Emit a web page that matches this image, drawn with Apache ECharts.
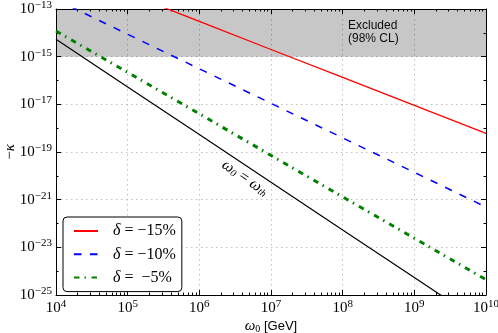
<!DOCTYPE html>
<html>
<head>
<meta charset="utf-8">
<script src="https://cdn.jsdelivr.net/npm/echarts@6/dist/echarts.min.js"></script>
<style>
  html, body { margin: 0; padding: 0; background: #fff; }
  #chart { width: 498px; height: 333px; }
</style>
</head>
<body>
<div id="chart"></div>
<script>
// omega_0 in GeV, one point per decade
var omega = [1e4, 1e5, 1e6, 1e7, 1e8, 1e9, 1e10];
// -kappa
var kappa15 = [6.8e-12, 4.6e-13, 3.0e-14, 2.0e-15, 1.35e-16, 9.1e-18, 6.0e-19];
var kappa10 = [2.5e-13, 8.7e-15, 3.1e-16, 1.1e-17, 3.9e-19, 1.4e-20, 4.9e-22];
var kappa5 = [1.2e-14, 2.2e-16, 4.0e-18, 7.2e-20, 1.3e-21, 2.4e-23, 4.4e-25];
var kappaTh = [5.4e-15, 5.4e-17, 5.4e-19, 5.4e-21, 5.4e-23, 5.4e-25, 5.4e-27];
var excluded = [1e-15, 1e-13];
var seriesNames = ['δ = −15%', 'δ = −10%', 'δ =  −5%'];

var serif = 'Liberation Serif';
var sans = 'Liberation Sans';

// the y axis is a value axis over log10(-kappa): echarts' log scale rounds values this small to 0
function pairs(ys) {
    var res = [];
    for (var i = 0; i < omega.length; i++) {
        res.push([omega[i], Math.log10(ys[i])]);
    }
    return res;
}

function expText(e) {
    return '{b|10}{e|' + String(Math.round(e)).replace('-', '−') + '}';
}

var powRich = {
    b: { fontFamily: serif, fontSize: 15, lineHeight: 19, color: '#000' },
    e: { fontFamily: serif, fontSize: 11, lineHeight: 10, verticalAlign: 'top', color: '#000' }
};

var gridLine = { show: true, lineStyle: { color: '#c0c0c0', type: [1.5, 3.5], width: 1 } };
var frame = { show: true, lineStyle: { color: '#000', width: 1 } };
var yMin = Math.log10(1e-25), yMax = Math.log10(1e-13);

function yAxisDef(pos, step, len, extra) {
    var a = {
        type: 'value',
        position: pos,
        min: yMin,
        max: yMax,
        interval: step,
        axisLine: step === 2 ? frame : { show: false },
        axisTick: { inside: true, length: len, lineStyle: { color: '#000' } },
        splitLine: { show: false },
        axisLabel: { show: false }
    };
    return Object.assign(a, extra || {});
}

var myChart = echarts.init(document.getElementById('chart'));

var option = {
    backgroundColor: '#fff',
    animation: false,
    grid: { left: 56, right: 12, top: 9, bottom: 38, containLabel: false, outerBoundsMode: 'none' },
    xAxis: [{
        type: 'log',
        min: 1e4,
        max: 1e10,
        axisLine: frame,
        axisTick: { inside: true, length: 5, lineStyle: { color: '#000' } },
        minorTick: { show: true, splitNumber: 9, length: 2.5, lineStyle: { color: '#000' } },
        splitLine: gridLine,
        axisLabel: {
            formatter: function (v) { return expText(Math.log10(v)); },
            rich: powRich,
            margin: 4
        },
        name: '{i|ω}{s|0}{n| [GeV]}',
        nameLocation: 'middle',
        nameMoveOverlap: false,
        nameGap: 24,
        nameTextStyle: {
            rich: {
                i: { fontFamily: serif, fontStyle: 'italic', fontSize: 15, color: '#000' },
                s: { fontFamily: serif, fontSize: 10, verticalAlign: 'bottom', lineHeight: 9, color: '#000' },
                n: { fontFamily: sans, fontSize: 13, color: '#000' }
            }
        }
    }, {
        type: 'log',
        position: 'top',
        min: 1e4,
        max: 1e10,
        axisLine: frame,
        axisTick: { inside: true, length: 5, lineStyle: { color: '#000' } },
        minorTick: { show: true, splitNumber: 9, length: 2.5, lineStyle: { color: '#000' } },
        splitLine: { show: false },
        axisLabel: { show: false }
    }],
    yAxis: [
        yAxisDef('left', 2, 5, {
            splitLine: gridLine,
            axisLabel: { show: true, formatter: expText, rich: powRich, margin: 4 }
        }),
        yAxisDef('left', 1, 2.5),
        yAxisDef('right', 2, 5),
        yAxisDef('right', 1, 2.5)
    ],
    legend: {
        orient: 'vertical',
        left: 63,
        top: 217,
        padding: [6, 6, 6, 10],
        itemWidth: 24,
        itemHeight: 14,
        itemGap: 7.3,
        backgroundColor: '#fff',
        borderColor: '#000',
        borderWidth: 1,
        borderRadius: 4,
        itemStyle: { opacity: 0 },
        data: seriesNames,
        formatter: function (name) {
            return '{i|δ}{n|' + name.slice(1) + '}';
        },
        textStyle: {
            rich: {
                i: { fontFamily: serif, fontStyle: 'italic', fontSize: 16, color: '#000', padding: [0, 0, 0, 10] },
                n: { fontFamily: serif, fontSize: 16, color: '#000' }
            }
        }
    },
    graphic: [{
        type: 'text',
        left: 348,
        top: 19,
        style: {
            text: 'Excluded\n(98% CL)',
            font: '12px "Liberation Sans"',
            fill: '#111',
            lineHeight: 13
        }
    }, {
        // y axis title, placed by hand
        type: 'text',
        x: 10,
        y: 152,
        rotation: Math.PI / 2,
        style: {
            text: '{n|−}{i|κ}',
            align: 'center',
            verticalAlign: 'middle',
            rich: {
                n: { fontFamily: serif, fontSize: 15, fill: '#000' },
                i: { fontFamily: serif, fontStyle: 'italic', fontSize: 15, fill: '#000' }
            }
        }
    }, {
        type: 'text',
        x: 245,
        y: 178,
        rotation: -0.6,
        style: {
            text: '{i|ω}{s|0}{n| = }{i|ω}{s|th}',
            align: 'center',
            verticalAlign: 'middle',
            rich: {
                i: { fontFamily: serif, fontStyle: 'italic', fontSize: 16, fill: '#000' },
                s: { fontFamily: serif, fontStyle: 'italic', fontSize: 10, fill: '#000', verticalAlign: 'bottom', lineHeight: 9 },
                n: { fontFamily: serif, fontSize: 16, fill: '#000' }
            }
        }
    }],
    series: [{
        name: seriesNames[0],
        type: 'line',
        symbol: 'none',
        clip: true,
        data: pairs(kappa15),
        lineStyle: { color: '#ff0000', width: 1.3 },
        itemStyle: { color: '#ff0000' },
        markArea: {
            silent: true,
            itemStyle: { color: 'rgba(0,0,0,0.22)' },
            data: [[{ yAxis: Math.log10(excluded[0]) }, { yAxis: Math.log10(excluded[1]) }]]
        }
    }, {
        name: seriesNames[1],
        type: 'line',
        symbol: 'none',
        clip: true,
        data: pairs(kappa10),
        lineStyle: { color: '#0000ff', width: 1.5, type: [7.5, 8.5] },
        itemStyle: { color: '#0000ff' }
    }, {
        name: seriesNames[2],
        type: 'line',
        symbol: 'none',
        clip: true,
        data: pairs(kappa5),
        lineStyle: { color: '#008000', width: 3, type: [5.5, 5, 1.5, 5.5] },
        itemStyle: { color: '#008000' }
    }, {
        name: 'threshold',
        type: 'line',
        symbol: 'none',
        clip: true,
        data: pairs(kappaTh),
        lineStyle: { color: '#000', width: 1.2 },
        itemStyle: { color: '#000' }
    }]
};

myChart.setOption(option);
</script>
</body>
</html>
